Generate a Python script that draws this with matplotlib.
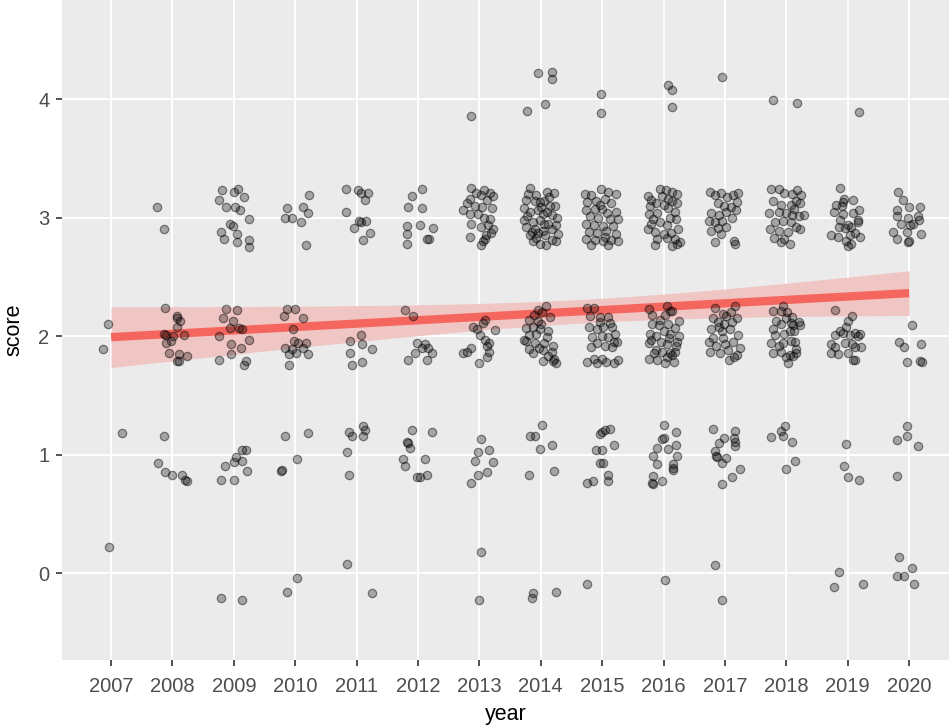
"""
Jittered score-by-year scatter with a linear trend and confidence band.
"""

import numpy as np
import matplotlib
matplotlib.use("Agg")
import matplotlib.pyplot as plt

YEARS = list(range(2007, 2021))

# (offset from year, score) for each plotted point
pts_2007 = [(-0.05, 2.10), (-0.14, 1.89), (0.18, 1.18), (-0.03, 0.22)]
pts_2008 = [
    (-0.26, 3.09), (-0.14, 2.90),
    (-0.12, 2.24), (0.07, 2.17), (0.08, 2.15), (0.13, 2.13), (0.08, 2.08),
    (-0.14, 2.02), (-0.11, 2.01), (0.01, 2.00), (0.19, 2.01), (-0.02, 1.96),
    (-0.10, 1.94), (-0.06, 1.86), (0.10, 1.85), (0.24, 1.83), (0.11, 1.79),
    (0.07, 1.79),
    (-0.14, 1.16), (-0.23, 0.93), (-0.12, 0.85), (0.00, 0.83), (0.16, 0.83),
    (0.21, 0.79), (0.23, 0.78),
]
pts_2009 = [
    (-0.19, 3.23), (0.01, 3.22), (0.07, 3.24), (-0.24, 3.15), (0.17, 3.17),
    (-0.13, 3.09), (0.02, 3.09), (0.10, 3.06), (0.25, 2.99), (-0.06, 2.95),
    (-0.01, 2.93), (-0.21, 2.88), (-0.16, 2.82), (0.05, 2.86), (0.05, 2.79),
    (0.24, 2.81), (0.24, 2.75),
    (-0.13, 2.23), (0.05, 2.22), (-0.17, 2.15), (-0.02, 2.13), (-0.07, 2.07),
    (0.09, 2.07), (0.13, 2.06), (-0.24, 2.00), (0.24, 1.97), (-0.05, 1.93),
    (0.12, 1.90), (-0.05, 1.85), (-0.24, 1.80), (0.19, 1.79), (0.17, 1.76),
    (0.14, 1.04), (0.20, 1.04), (0.04, 0.98), (0.00, 0.94), (0.14, 0.95),
    (-0.15, 0.90), (0.21, 0.86), (-0.21, 0.79), (0.00, 0.79),
    (-0.21, -0.21), (0.14, -0.23),
]
pts_2010 = [
    (-0.14, 3.08), (-0.17, 3.00), (-0.05, 3.00), (0.13, 3.09), (0.22, 3.19),
    (0.20, 3.04), (0.09, 2.96), (0.17, 2.77),
    (-0.14, 2.23), (0.00, 2.23), (-0.19, 2.17), (0.13, 2.15), (-0.03, 2.06),
    (-0.02, 1.96), (0.05, 1.94), (0.17, 1.94), (-0.17, 1.90), (-0.06, 1.89),
    (0.13, 1.90), (-0.11, 1.85), (0.02, 1.86), (0.20, 1.85), (-0.10, 1.76),
    (-0.17, 1.16), (0.20, 1.18), (0.03, 0.96), (-0.24, 0.86), (-0.22, 0.87),
    (0.03, -0.04), (-0.14, -0.16),
]
pts_2011 = [
    (-0.17, 3.24), (0.03, 3.23), (0.07, 3.21), (0.18, 3.21), (0.13, 3.15),
    (-0.17, 3.05), (0.04, 2.97), (0.07, 2.96), (0.16, 2.97), (-0.05, 2.91),
    (0.22, 2.87), (0.10, 2.81),
    (0.07, 2.01), (-0.11, 1.96), (0.08, 1.93), (0.25, 1.89), (-0.11, 1.86),
    (-0.08, 1.76), (0.08, 1.78),
    (-0.12, 1.19), (-0.08, 1.16), (0.10, 1.24), (0.13, 1.21), (0.11, 1.16),
    (-0.15, 1.02), (-0.12, 0.83),
    (-0.15, 0.08), (0.25, -0.17),
]
pts_2012 = [
    (0.06, 3.24), (-0.10, 3.18), (-0.16, 3.09), (0.06, 3.08), (0.03, 2.94),
    (-0.18, 2.93), (0.25, 2.91), (-0.18, 2.86), (0.14, 2.82), (0.18, 2.82),
    (-0.18, 2.78),
    (-0.21, 2.22), (-0.08, 2.17), (-0.02, 1.94), (0.11, 1.93), (0.06, 1.90),
    (0.17, 1.90), (-0.05, 1.86), (0.23, 1.86), (-0.16, 1.80), (0.15, 1.80),
    (-0.10, 1.21), (0.22, 1.19), (-0.18, 1.11), (-0.16, 1.10), (-0.13, 1.06),
    (-0.24, 0.96), (0.11, 0.96), (-0.21, 0.90), (-0.02, 0.81), (0.03, 0.81),
    (0.15, 0.83),
]
pts_2013 = [
    (-0.14, 3.86),
    (-0.13, 3.25), (-0.05, 3.21), (0.08, 3.23), (0.17, 3.21), (0.22, 3.18),
    (-0.15, 3.16), (0.03, 3.19), (0.12, 3.15), (-0.21, 3.12), (-0.07, 3.10),
    (0.05, 3.09), (0.20, 3.08), (-0.26, 3.06), (-0.16, 3.03), (-0.02, 3.03),
    (0.08, 3.00), (0.18, 2.99), (-0.14, 2.95), (0.02, 2.92), (0.14, 2.94),
    (0.22, 2.90), (0.19, 2.87), (-0.15, 2.84), (0.10, 2.85), (0.06, 2.80),
    (0.02, 2.77), (0.09, 2.82),
    (0.09, 2.14), (0.06, 2.11), (-0.10, 2.08), (-0.04, 2.06), (0.25, 2.05),
    (0.01, 2.01), (0.09, 1.97), (0.15, 1.94), (0.12, 1.92), (-0.26, 1.86),
    (-0.21, 1.87), (-0.13, 1.90), (0.15, 1.87), (0.12, 1.82), (0.00, 1.77),
    (0.02, 1.13), (-0.03, 1.02), (0.16, 1.04), (-0.08, 0.95), (0.22, 0.94),
    (-0.03, 0.83), (0.12, 0.85), (-0.14, 0.76),
    (0.02, 0.18), (0.00, -0.23),
]
pts_2014 = [
    (-0.04, 4.22), (0.19, 4.23), (0.19, 4.17), (-0.23, 3.90), (0.07, 3.96),
    (-0.18, 3.25), (0.22, 3.21), (-0.24, 3.15), (-0.10, 3.14), (-0.02, 3.13),
    (0.06, 3.14), (0.15, 3.10), (0.23, 3.10), (-0.27, 3.08), (-0.18, 3.05),
    (-0.05, 3.06), (0.04, 3.03), (0.18, 3.02), (-0.27, 2.98), (-0.13, 2.96),
    (-0.02, 2.98), (0.12, 2.95), (0.24, 2.94), (-0.24, 2.92), (-0.10, 2.90),
    (0.04, 2.89), (0.18, 2.90), (-0.18, 2.85), (-0.07, 2.83), (0.07, 2.85),
    (0.28, 2.86), (-0.13, 2.80), (-0.02, 2.78), (0.09, 2.77), (0.18, 2.81),
    (-0.21, 3.20), (0.10, 3.22), (-0.08, 3.19), (0.00, 3.09), (0.10, 3.05),
    (-0.22, 3.01), (0.27, 3.00), (0.05, 2.95), (-0.15, 2.88), (0.24, 2.80),
    (0.14, 3.17), (-0.05, 2.87),
    (0.09, 2.25), (-0.05, 2.22), (-0.11, 2.18), (-0.19, 2.14), (-0.05, 2.13),
    (-0.13, 2.08), (-0.24, 2.07), (-0.02, 2.06), (0.12, 2.04), (-0.19, 2.01),
    (-0.24, 1.96), (-0.10, 1.94), (0.06, 1.94), (0.20, 1.92), (0.04, 1.88),
    (0.18, 1.87), (-0.13, 1.86), (0.22, 1.81), (0.20, 1.79), (0.04, 1.79),
    (0.25, 1.77), (-0.27, 1.97), (0.00, 2.10), (-0.08, 2.02), (0.10, 1.99),
    (0.15, 2.16), (-0.03, 1.90), (0.12, 1.83), (-0.20, 1.89), (0.02, 2.20),
    (0.02, 1.25), (-0.18, 1.16), (-0.09, 1.16), (0.19, 1.08), (-0.01, 1.05),
    (-0.20, 0.83), (0.21, 0.86),
    (-0.12, -0.17), (-0.15, -0.21), (0.24, -0.16),
]
pts_2015 = [
    (-0.02, 4.04), (-0.02, 3.88),
    (-0.28, 3.20), (-0.18, 3.19), (-0.02, 3.24), (0.10, 3.22), (0.22, 3.20),
    (-0.24, 3.13), (-0.10, 3.14), (0.04, 3.16), (0.15, 3.12), (-0.26, 3.06),
    (-0.12, 3.07), (0.00, 3.07), (0.08, 3.04), (0.22, 3.05), (-0.20, 3.01),
    (-0.06, 3.00), (0.12, 2.99), (0.26, 2.99), (-0.27, 2.95), (-0.14, 2.94),
    (0.02, 2.93), (0.18, 2.93), (-0.22, 2.88), (-0.08, 2.87), (0.07, 2.89),
    (0.22, 2.86), (-0.26, 2.82), (-0.12, 2.81), (0.01, 2.80), (0.14, 2.81),
    (0.26, 2.80), (-0.18, 2.77), (0.10, 2.77), (0.04, 2.84), (-0.04, 3.11),
    (-0.25, 2.24), (-0.14, 2.24), (-0.20, 2.17), (-0.03, 2.16), (0.10, 2.16),
    (-0.22, 2.08), (-0.08, 2.06), (0.02, 2.08), (0.16, 2.08), (-0.17, 1.99),
    (-0.01, 2.00), (0.10, 1.99), (0.21, 2.02), (-0.08, 1.94), (0.05, 1.92),
    (0.19, 1.95), (0.16, 1.91), (-0.25, 1.78), (-0.14, 1.81), (-0.08, 1.77),
    (-0.01, 1.81), (0.07, 1.78), (0.19, 1.77), (-0.19, 1.91), (0.12, 2.11),
    (0.25, 1.80), (-0.04, 2.12), (0.24, 1.95),
    (-0.01, 1.19), (0.05, 1.21), (0.12, 1.22), (-0.04, 1.17), (-0.10, 1.04),
    (-0.01, 1.04), (0.20, 1.08), (-0.04, 0.93), (0.01, 0.93), (-0.25, 0.76),
    (-0.15, 0.78), (0.10, 0.83), (0.10, 0.78),
    (-0.24, -0.09),
]
pts_2016 = [
    (0.08, 4.12), (0.13, 4.08), (0.13, 3.93),
    (-0.26, 3.18), (-0.20, 3.15), (-0.06, 3.24), (0.04, 3.23), (0.14, 3.22),
    (0.22, 3.20), (-0.22, 3.10), (-0.12, 3.12), (0.14, 3.14), (0.22, 3.12),
    (0.08, 3.08), (0.18, 3.05), (-0.24, 3.03), (-0.10, 3.04), (0.10, 3.00),
    (0.20, 2.99), (-0.20, 2.95), (-0.06, 2.96), (0.06, 2.94), (-0.26, 2.90),
    (-0.14, 2.88), (0.00, 2.86), (0.12, 2.87), (0.24, 2.90), (-0.10, 2.82),
    (0.05, 2.83), (0.18, 2.82), (0.26, 2.79), (-0.14, 2.77), (0.14, 2.76),
    (0.22, 2.78), (-0.02, 3.18), (0.08, 3.16), (-0.18, 2.99), (0.00, 3.11),
    (-0.24, 2.23), (-0.19, 2.18), (0.06, 2.25), (0.11, 2.21), (0.03, 2.18),
    (0.14, 2.21), (0.25, 2.13), (-0.19, 2.10), (-0.08, 2.09), (0.08, 2.10),
    (0.19, 2.07), (-0.22, 2.02), (-0.13, 2.00), (0.11, 2.02), (0.25, 2.00),
    (-0.24, 1.94), (-0.04, 1.95), (0.06, 1.93), (0.22, 1.95), (-0.13, 1.88),
    (-0.02, 1.87), (0.11, 1.86), (0.19, 1.87), (-0.24, 1.81), (-0.10, 1.80),
    (0.05, 1.82), (0.14, 1.84), (-0.16, 1.86), (0.00, 2.04), (-0.06, 2.14),
    (0.17, 1.78), (0.02, 1.77), (-0.20, 1.97), (0.09, 1.98), (0.21, 1.92),
    (0.00, 1.25), (0.20, 1.19), (-0.03, 1.13), (0.00, 1.14), (-0.11, 1.06),
    (0.08, 1.05), (0.21, 1.08), (-0.17, 0.99), (0.22, 0.99), (-0.10, 0.92),
    (0.16, 0.92), (0.16, 0.89), (0.16, 0.87), (-0.17, 0.82), (-0.19, 0.76),
    (-0.18, 0.75), (-0.03, 0.78),
    (0.03, -0.06),
]
pts_2017 = [
    (-0.04, 4.19),
    (-0.24, 3.22), (-0.16, 3.19), (-0.06, 3.21), (0.04, 3.17), (0.13, 3.19),
    (0.22, 3.21), (-0.12, 3.12), (-0.02, 3.10), (0.10, 3.09), (-0.22, 3.04),
    (-0.10, 3.02), (0.01, 3.05), (0.18, 3.06), (-0.26, 2.97), (-0.16, 2.96),
    (-0.04, 2.97), (0.11, 3.00), (-0.22, 2.89), (-0.12, 2.91), (0.02, 2.92),
    (-0.17, 2.79), (0.14, 2.80), (0.16, 2.78), (0.20, 3.13), (-0.06, 2.86),
    (-0.16, 2.24), (0.17, 2.25), (-0.03, 2.19), (0.02, 2.17), (-0.11, 2.12),
    (0.11, 2.12), (0.19, 2.15), (-0.22, 2.06), (-0.05, 2.04), (0.08, 2.06),
    (-0.19, 1.98), (-0.03, 1.98), (0.13, 1.95), (-0.24, 1.87), (-0.08, 1.86),
    (0.05, 1.88), (0.19, 1.84), (0.14, 1.82), (-0.14, 1.92), (0.22, 2.01),
    (-0.10, 2.08), (0.00, 1.93), (0.10, 2.20), (-0.20, 2.15), (0.06, 1.80),
    (-0.02, 2.10), (0.24, 1.90), (-0.26, 1.95),
    (-0.19, 1.22), (0.16, 1.20), (-0.02, 1.14), (-0.09, 1.10), (0.14, 1.14),
    (0.16, 1.11), (0.17, 1.07), (-0.16, 1.03), (-0.15, 0.99), (-0.13, 0.98),
    (0.02, 0.97), (-0.04, 0.93), (0.24, 0.88), (0.11, 0.81), (-0.04, 0.75),
    (-0.17, 0.07), (-0.04, -0.23),
]
pts_2018 = [
    (-0.21, 3.99), (0.17, 3.97),
    (-0.25, 3.24), (-0.12, 3.24), (-0.03, 3.21), (0.09, 3.20), (0.18, 3.23),
    (0.24, 3.19), (-0.22, 3.14), (-0.08, 3.11), (0.08, 3.11), (0.16, 3.14),
    (0.22, 3.12), (-0.28, 3.04), (-0.12, 3.05), (-0.01, 3.04), (0.10, 3.02),
    (0.20, 3.01), (0.28, 3.02), (-0.18, 2.96), (-0.06, 2.97), (0.07, 2.96),
    (-0.26, 2.90), (-0.12, 2.89), (0.03, 2.88), (0.15, 2.92), (-0.04, 2.82),
    (-0.20, 2.83), (-0.08, 2.79), (0.06, 2.78), (0.22, 2.90), (0.12, 3.07),
    (-0.22, 2.21), (-0.09, 2.21), (-0.17, 2.13), (0.00, 2.15), (-0.22, 2.06),
    (-0.09, 2.10), (0.07, 2.11), (-0.19, 2.01), (-0.03, 2.02), (0.13, 2.04),
    (-0.25, 1.94), (-0.12, 1.92), (0.07, 1.96), (-0.22, 1.86), (-0.09, 1.87),
    (-0.01, 1.82), (0.11, 1.83), (0.16, 1.89), (0.02, 1.77), (-0.05, 2.25),
    (0.01, 2.20), (0.09, 2.16), (0.20, 2.12), (0.22, 2.09), (0.11, 2.09),
    (0.06, 2.04), (0.14, 1.95), (-0.05, 1.94), (0.06, 1.84), (0.15, 1.86),
    (-0.25, 1.15), (-0.08, 1.20), (-0.02, 1.24), (-0.05, 1.16), (0.10, 1.11),
    (0.14, 0.95), (0.00, 0.88),
]
pts_2019 = [
    (0.19, 3.89),
    (-0.13, 3.25), (-0.06, 3.16), (0.08, 3.15), (-0.19, 3.11), (-0.10, 3.10),
    (-0.22, 3.05), (-0.08, 3.03), (0.08, 3.04), (0.19, 3.06), (0.16, 2.98),
    (0.00, 2.94), (-0.14, 2.92), (-0.05, 2.91), (0.06, 2.92), (0.17, 2.96),
    (-0.27, 2.85), (-0.16, 2.84), (-0.02, 2.80), (0.06, 2.78), (0.20, 2.84),
    (0.04, 2.85), (-0.08, 3.13), (0.12, 2.87), (-0.12, 2.98), (0.01, 2.76),
    (-0.21, 2.22), (0.07, 2.17), (0.01, 2.13), (-0.02, 2.08), (-0.12, 2.04),
    (-0.21, 2.01), (-0.07, 2.03), (0.04, 2.01), (0.12, 2.03), (0.17, 2.00),
    (0.20, 2.02), (-0.27, 1.93), (-0.21, 1.91), (-0.05, 1.94), (0.07, 1.93),
    (0.12, 1.91), (0.21, 1.91), (-0.27, 1.86), (-0.16, 1.85), (0.01, 1.86),
    (0.09, 1.80), (0.12, 1.80),
    (-0.03, 1.09), (-0.06, 0.90), (0.00, 0.81), (0.19, 0.79),
    (-0.14, 0.01), (-0.22, -0.12), (0.25, -0.09),
]
pts_2020 = [
    (-0.18, 3.22), (-0.10, 3.15), (0.00, 3.09), (0.18, 3.09), (-0.19, 3.06),
    (-0.02, 3.00), (-0.20, 3.01), (0.15, 3.01), (0.16, 2.98), (-0.14, 2.95),
    (0.01, 2.94), (-0.26, 2.88), (-0.04, 2.88), (0.19, 2.86), (-0.20, 2.82),
    (0.00, 2.80), (-0.02, 2.79), (0.07, 2.95),
    (0.04, 2.09), (-0.16, 1.95), (-0.08, 1.91), (0.19, 1.93), (-0.04, 1.78),
    (0.18, 1.79), (0.21, 1.78),
    (-0.04, 1.24), (-0.04, 1.16), (-0.20, 1.12), (0.15, 1.07), (-0.20, 0.82),
    (-0.17, 0.14), (0.05, 0.04), (-0.20, -0.02), (-0.08, -0.02), (0.08, -0.09),
]

POINTS = [pts_2007, pts_2008, pts_2009, pts_2010, pts_2011, pts_2012, pts_2013,
          pts_2014, pts_2015, pts_2016, pts_2017, pts_2018, pts_2019, pts_2020]

year_raw = np.array([yr for yr, pts in zip(YEARS, POINTS) for _ in pts], float)
year_x = np.array([yr + dx for yr, pts in zip(YEARS, POINTS) for dx, _ in pts])
score_y = np.array([s for pts in POINTS for _, s in pts])

# linear fit on the un-jittered years, band for the mean
CONF_Z = 3.0
n = len(year_raw)
slope, intercept = np.polyfit(year_raw, score_y, 1)
resid = score_y - (intercept + slope * year_raw)
s_err = np.sqrt(np.sum(resid ** 2) / (n - 2))
x_mean = year_raw.mean()
sxx = np.sum((year_raw - x_mean) ** 2)
fit_x = np.linspace(YEARS[0], YEARS[-1], 80)
fit_y = intercept + slope * fit_x
half = CONF_Z * s_err * np.sqrt(1.0 / n + (fit_x - x_mean) ** 2 / sxx)

plt.rcParams["font.family"] = ["Liberation Sans", "DejaVu Sans"]

fig = plt.figure(figsize=(9.49, 7.27), dpi=100)
ax = fig.add_axes([62 / 949, 67 / 727, 1 - 62 / 949, 1 - 67 / 727])
ax.set_facecolor("#EBEBEB")

ax.fill_between(fit_x, fit_y - half, fit_y + half, color="#F0C6C4",
                lw=0, zorder=2)
ax.plot(fit_x, fit_y, color="#F4665E", lw=6, solid_capstyle="butt",
        zorder=3)
ax.scatter(year_x, score_y, s=36, facecolors=(0, 0, 0, 0.3),
           edgecolors=(0, 0, 0, 0.45), linewidths=0.9, zorder=4)

ax.set_xlim(2006.2, 2020.65)
ax.set_ylim(-0.733, 4.836)
ax.set_xticks(YEARS)
ax.set_yticks([0, 1, 2, 3, 4])
ax.grid(True, color="white", lw=1.4)
ax.set_axisbelow(True)
for sp in ax.spines.values():
    sp.set_visible(False)
ax.tick_params(colors="#333333", labelcolor="#4D4D4D", labelsize=14.5,
               length=4, width=1.2)
ax.tick_params(axis="x", pad=8)
ax.tick_params(axis="y", pad=5)

ax.set_xlabel("year", fontsize=15.5, labelpad=6)
ax.set_ylabel("score", fontsize=15.5, labelpad=10)

fig.savefig("out.png", dpi=100)
